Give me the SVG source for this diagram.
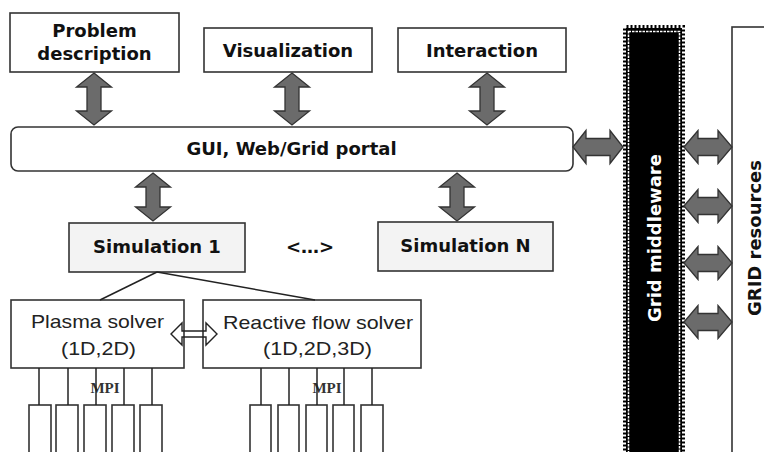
<svg xmlns="http://www.w3.org/2000/svg" width="764" height="452" viewBox="0 0 764 452">
  <style>
    .box { fill: #ffffff; stroke: #333333; stroke-width: 1.6; }
    .sim { fill: #f3f3f3; stroke: #333333; stroke-width: 1.6; }
    .t { font-family: "DejaVu Sans", Verdana, sans-serif; font-weight: bold; font-size: 18px; fill: #111111; text-anchor: middle; }
    .r { font-family: "Liberation Sans", Arial, sans-serif; font-size: 19px; fill: #222222; text-anchor: middle; }
    .mpi { font-family: "Liberation Serif", "Times New Roman", serif; font-weight: bold; font-size: 15px; fill: #333333; text-anchor: middle; }
    .arr { fill: #6b6b6b; stroke: #333333; stroke-width: 1.3; stroke-linejoin: miter; }
    .line { stroke: #222222; stroke-width: 1.5; fill: none; }
  </style>
  <defs>
    <path id="vA52" d="M0,0 L17.5,14 L7,14 L7,38 L17.5,38 L0,52 L-17.5,38 L-7,38 L-7,14 L-17.5,14 Z"/>
    <path id="vA48" d="M0,0 L17.5,14 L7,14 L7,34 L17.5,34 L0,48 L-17.5,34 L-7,34 L-7,14 L-17.5,14 Z"/>
    <path id="hA50" d="M0,0 L13,-16.5 L13,-8.5 L37,-8.5 L37,-16.5 L50,0 L37,16.5 L37,8.5 L13,8.5 L13,16.5 Z"/>
    <path id="hA48" d="M0,0 L14,-16.5 L14,-8.5 L34,-8.5 L34,-16.5 L48,0 L34,16.5 L34,8.5 L14,8.5 L14,16.5 Z"/>
  </defs>
  <rect width="764" height="452" fill="#ffffff"/>

  <!-- top row -->
  <g id="problem">
    <rect class="box" x="10" y="13" width="169" height="59"/>
    <text class="t" x="94.5" y="37">Problem</text>
    <text class="t" x="94.5" y="60">description</text>
  </g>
  <g id="visualization">
    <rect class="box" x="204" y="28" width="168" height="44"/>
    <text class="t" x="288" y="57">Visualization</text>
  </g>
  <g id="interaction">
    <rect class="box" x="398" y="28" width="168" height="44"/>
    <text class="t" x="482" y="57">Interaction</text>
  </g>

  <!-- portal bar -->
  <g id="portal">
    <rect class="box" x="11" y="127" width="562" height="44" rx="7"/>
    <text class="t" x="291.5" y="155">GUI, Web/Grid portal</text>
  </g>

  <!-- simulations -->
  <g id="sim1">
    <rect class="sim" x="69" y="223" width="176" height="49"/>
    <text class="t" x="157" y="253">Simulation 1</text>
  </g>
  <g id="ellipsis">
    <text class="t" x="310" y="253">&lt;…&gt;</text>
  </g>
  <g id="simN">
    <rect class="sim" x="378" y="222" width="175" height="49"/>
    <text class="t" x="465.5" y="252">Simulation N</text>
  </g>

  <!-- solvers -->
  <g id="plasma">
    <rect class="box" x="11" y="300" width="173" height="68"/>
    <text class="r" x="97.5" y="328" textLength="133" lengthAdjust="spacingAndGlyphs">Plasma solver</text>
    <text class="r" x="98.5" y="355" textLength="75" lengthAdjust="spacingAndGlyphs">(1D,2D)</text>
  </g>
  <g id="reactive">
    <rect class="box" x="203" y="300" width="218" height="68"/>
    <text class="r" x="318" y="329" textLength="190" lengthAdjust="spacingAndGlyphs">Reactive flow solver</text>
    <text class="r" x="317.5" y="355" textLength="109" lengthAdjust="spacingAndGlyphs">(1D,2D,3D)</text>
  </g>

  <!-- process boxes -->
  <g id="plasma-procs">
    <rect class="box" x="29" y="405" width="22" height="60"/>
    <rect class="box" x="56" y="405" width="22" height="60"/>
    <rect class="box" x="84" y="405" width="22" height="60"/>
    <rect class="box" x="112" y="405" width="22" height="60"/>
    <rect class="box" x="140" y="405" width="22" height="60"/>
    <text class="mpi" x="105" y="393">MPI</text>
  </g>
  <g id="reactive-procs">
    <rect class="box" x="250" y="405" width="21" height="60"/>
    <rect class="box" x="278" y="405" width="21" height="60"/>
    <rect class="box" x="306" y="405" width="21" height="60"/>
    <rect class="box" x="333" y="405" width="21" height="60"/>
    <rect class="box" x="361" y="405" width="22" height="60"/>
    <text class="mpi" x="327" y="393">MPI</text>
  </g>

  <!-- grid middleware: black bar with a serrated, dotted double border -->
  <g id="middleware">
    <rect x="623" y="25" width="62" height="440" fill="#000000"/>
    <rect x="624.5" y="26.5" width="59" height="440" fill="none" stroke="#ffffff" stroke-width="3" stroke-dasharray="2 2"/>
    <rect x="628.5" y="31.5" width="51" height="440" fill="none" stroke="#ffffff" stroke-width="1.5" stroke-dasharray="2.5 1"/>
    <text class="t" style="fill:#ffffff" transform="translate(661,238) rotate(-90)" x="0" y="0">Grid middleware</text>
  </g>

  <!-- grid resources -->
  <g id="resources">
    <rect class="box" x="732" y="27" width="50" height="440"/>
    <text class="t" transform="translate(761,238) rotate(-90)" x="0" y="0">GRID resources</text>
  </g>

  <!-- connectors -->
  <g id="connectors">
    <use href="#vA52" class="arr" x="94" y="73"/>
    <use href="#vA52" class="arr" x="292" y="73"/>
    <use href="#vA52" class="arr" x="487" y="73"/>
    <use href="#vA48" class="arr" x="153" y="173"/>
    <use href="#vA48" class="arr" x="457" y="173"/>
    <use href="#hA50" class="arr" x="573" y="147"/>
    <use href="#hA48" class="arr" x="684" y="147"/>
    <use href="#hA48" class="arr" x="684" y="206"/>
    <use href="#hA48" class="arr" x="684" y="263"/>
    <use href="#hA48" class="arr" x="684" y="322"/>

    <line class="line" x1="157" y1="272" x2="100" y2="300"/>
    <line class="line" x1="157" y1="272" x2="315" y2="300"/>

    <path d="M171,334 L182,323 L182,331 L206,331 L206,323 L217,334 L206,345 L206,337 L182,337 L182,345 Z" fill="none" stroke="#222222" stroke-width="1.4"/>

    <line class="line" x1="39" y1="368" x2="39" y2="405"/>
    <line class="line" x1="68" y1="368" x2="68" y2="405"/>
    <line class="line" x1="96" y1="368" x2="96" y2="405"/>
    <line class="line" x1="124" y1="368" x2="124" y2="405"/>
    <line class="line" x1="152" y1="368" x2="152" y2="405"/>
    <line class="line" x1="261" y1="368" x2="261" y2="405"/>
    <line class="line" x1="289" y1="368" x2="289" y2="405"/>
    <line class="line" x1="317" y1="368" x2="317" y2="405"/>
    <line class="line" x1="344" y1="368" x2="344" y2="405"/>
    <line class="line" x1="372" y1="368" x2="372" y2="405"/>
  </g>
</svg>
